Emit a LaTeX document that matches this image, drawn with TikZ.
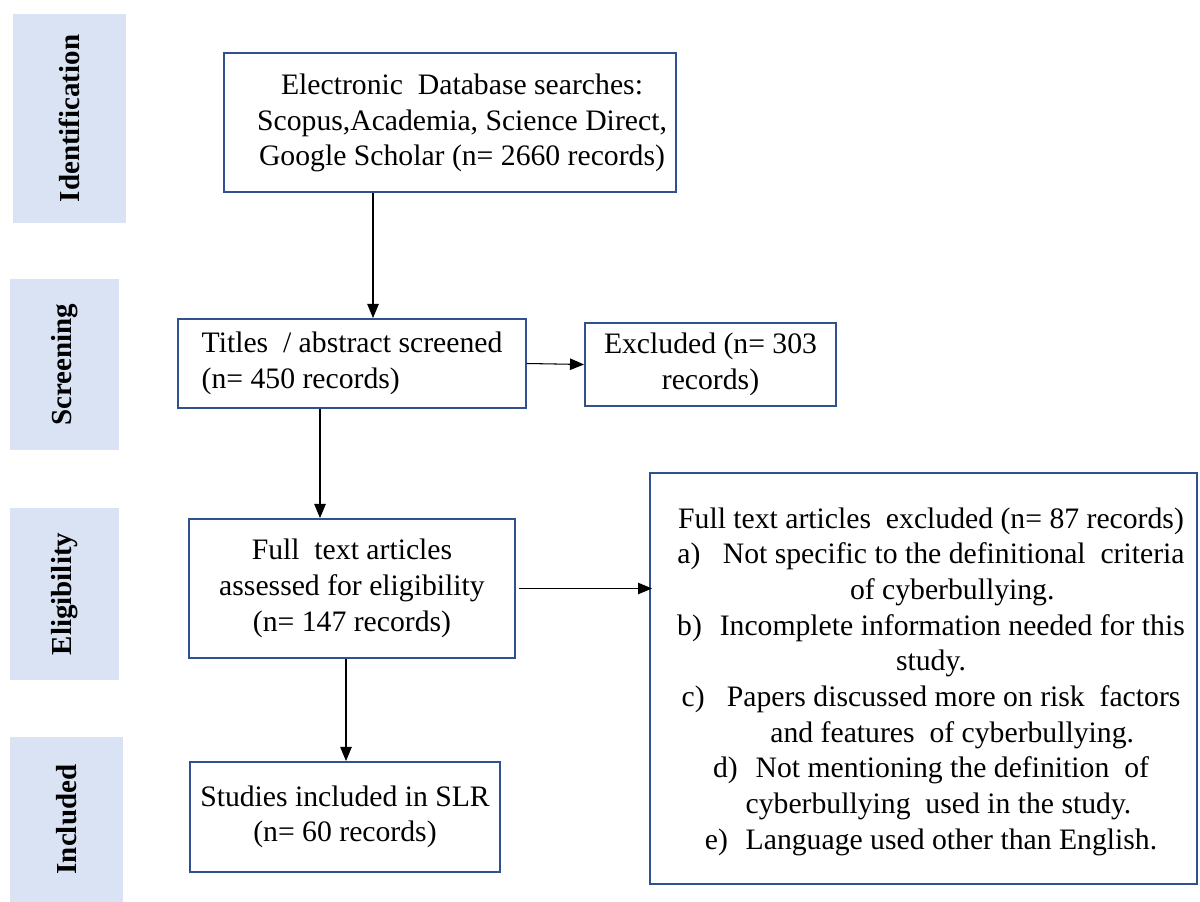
\documentclass[tikz,border=0pt]{standalone}
\usepackage{fontspec}
\setmainfont{Liberation Serif}
\usetikzlibrary{arrows.meta}
\definecolor{bordercol}{RGB}{47,82,143}
\definecolor{barcol}{RGB}{218,227,243}
\begin{document}
\begin{tikzpicture}[x=0.02cm,y=-0.02cm,
  txt/.style={font=\fontsize{16.9}{20.3}\selectfont},
  flowbox/.style={draw=bordercol,line width=1.1pt,fill=white,txt,inner sep=0pt,align=center},
  phasebar/.style={fill=barcol,draw=none,rotate=90,inner sep=0pt,font=\fontsize{16.5}{19}\selectfont\bfseries},
  arr/.style={draw=black,line width=0.6pt,-{Triangle[length=8pt,width=6.5pt]}}]
\useasboundingbox (0,0) rectangle (1200,902);

% phase bars
\node[phasebar,minimum width=4.18cm,minimum height=2.26cm] (pid) at (69.5,118.5) {Identification};
\node[phasebar,minimum width=3.42cm,minimum height=2.18cm] (psc) at (64.5,364.5) {Screening};
\node[phasebar,minimum width=3.44cm,minimum height=2.18cm] (pel) at (64.5,594) {Eligibility};
\node[phasebar,minimum width=3.30cm,minimum height=2.26cm] (pin) at (66.5,819.5) {Included};

% boxes
\node[flowbox,minimum width=9.04cm,minimum height=2.78cm] (box1) at (450,122.5) {};
\node[txt,align=center,inner sep=0pt] (box1t) at (462,123)
  {Electronic\ \ Database searches:\\Scopus,Academia,\ Science Direct,\\Google Scholar (n= 2660 records)};

\node[flowbox,align=left,minimum width=6.96cm,minimum height=1.78cm] (box2) at (352,363.5)
  {Titles\ \ / abstract screened\\(n= 450 records)};

\node[flowbox,minimum width=5.02cm,minimum height=1.66cm] (excl) at (710.5,364.5)
  {Excluded (n= 303\\records)};

\node[flowbox,minimum width=6.52cm,minimum height=2.78cm] (box3) at (352,588.5)
  {Full\ \ text articles\\assessed for eligibility\\(n= 147 records)};

\node[flowbox,minimum width=10.94cm,minimum height=8.22cm] (rbox) at (923.5,678.5) {};
\node[txt,align=center,inner sep=0pt] (rboxt) at (931,681.5)
  {Full text articles\ \ excluded (n= 87 records)\\
   a)\hspace{0.75em}Not specific to the definitional\ \ criteria\\
   \hspace*{0.85cm}of cyberbullying.\\
   b)\hspace{0.6em}Incomplete information needed for this\\
   study.\\
   c)\hspace{0.75em}Papers discussed more on risk\ \ factors\\
   \hspace*{0.85cm}and features\ \ of cyberbullying.\\
   d)\hspace{0.6em}Not mentioning the definition\ \ of\\
   \hspace*{0.3cm}cyberbullying\ \ used in the study.\\
   e)\hspace{0.6em}Language used other than English.};

\node[flowbox,minimum width=6.2cm,minimum height=2.2cm] (box4) at (345,817)
  {Studies included in SLR\\(n= 60 records)};

% connectors
\draw[arr] ([xshift=-1.54cm]box1.south) -- ([xshift=-1.54cm]box1.south |- box2.north);
\draw[arr] (box2.east) -- (excl.west);
\draw[arr] ([xshift=-0.64cm]box2.south) -- ([xshift=-0.64cm]box2.south |- box3.north);
\draw[arr] ([xshift=0.06cm]box3.east) -- ([xshift=0.06cm]box3.east -| rbox.west);
\draw[arr] ([xshift=-0.12cm]box3.south) -- ([xshift=-0.12cm]box3.south |- box4.north);
\end{tikzpicture}
\end{document}
